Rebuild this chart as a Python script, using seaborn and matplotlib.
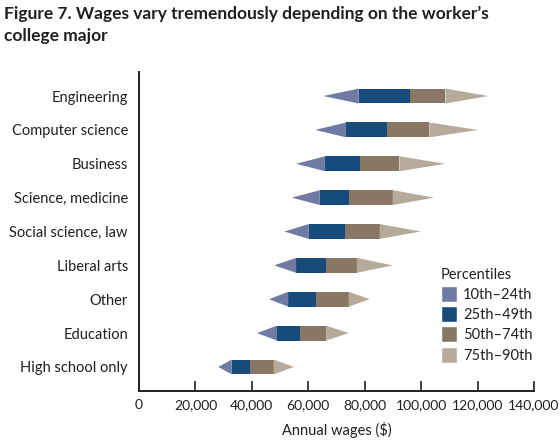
import pandas as pd
import numpy as np
import matplotlib.pyplot as plt
import seaborn as sns
from matplotlib.patches import Patch

majors = ['Engineering', 'Computer science', 'Business', 'Science, medicine',
          'Social science, law', 'Liberal arts', 'Other', 'Education', 'High school only']
p10 = [65300, 62500, 55700, 54200, 51500, 47900, 46100, 41800, 28100]
p25 = [77900, 73400, 65900, 64100, 60200, 55700, 52900, 48900, 32900]
p50 = [96100, 87800, 78400, 74300, 73000, 66200, 62600, 57200, 39200]
p75 = [108600, 102900, 92300, 89900, 85300, 77200, 74300, 66300, 47700]
p90 = [123800, 120100, 108600, 104600, 99900, 89900, 81800, 74400, 54900]

seg_labels = ['10th\u201324th', '25th\u201349th', '50th\u201374th', '75th\u201390th']
colors = ['#6f7ba3', '#174b7c', '#887764', '#b6aa9a']

df = pd.DataFrame({'major': majors, 'p10': p10, 'p25': p25, 'p50': p50, 'p75': p75, 'p90': p90})
df['w_low'] = df['p50'] - df['p25']
df['w_high'] = df['p75'] - df['p50']

sns.set_style('white')
plt.rcParams['font.family'] = ['Lato', 'DejaVu Sans']

fig = plt.figure(figsize=(5.6, 4.45), dpi=100)
ax = fig.add_axes([139 / 560, 1 - 391 / 445, 395 / 560, 319 / 445])

bh = 0.44
# middle boxes (25th-49th and 50th-74th)
sns.barplot(data=df, y='major', x='w_low', left=df['p25'], color=colors[1],
            width=bh, saturation=1, linewidth=0, ax=ax)
sns.barplot(data=df, y='major', x='w_high', left=df['p50'], color=colors[2],
            width=bh, saturation=1, linewidth=0, ax=ax)

# arrow tips (10th-24th and 75th-90th)
for i, row in df.iterrows():
    ax.fill([row['p10'], row['p25'], row['p25']], [i, i - bh / 2, i + bh / 2],
            color=colors[0], lw=0)
    ax.fill([row['p90'], row['p75'], row['p75']], [i, i - bh / 2, i + bh / 2],
            color=colors[3], lw=0)

ax.set_xlim(0, 140000)
ax.set_ylim(len(majors) - 0.29, -0.71)
ax.set_xticks(np.arange(0, 140001, 20000))
ax.set_xticklabels([f'{v:,}' for v in range(0, 140001, 20000)])
ax.set_ylabel('')
ax.set_xlabel('Annual wages ($)', fontsize=10.5, color='#231f20', labelpad=8)

for s in ['top', 'right']:
    ax.spines[s].set_visible(False)
for s in ['left', 'bottom']:
    ax.spines[s].set_color('#231f20')
    ax.spines[s].set_linewidth(1.4)
    ax.spines[s].set_zorder(5)

ax.tick_params(axis='x', direction='in', length=7, width=1.2, color='#231f20',
               labelsize=10, labelcolor='#231f20', pad=6, bottom=True)
ax.tick_params(axis='y', length=0, labelsize=10.5, labelcolor='#231f20', pad=8)

handles = [Patch(facecolor=c, label=l) for c, l in zip(colors, seg_labels)]
leg = ax.legend(handles=handles, title='Percentiles', loc='upper left',
                bbox_to_anchor=(0.745, 0.41), frameon=False, fontsize=10.5,
                title_fontsize=10.5, handlelength=1.1, handleheight=1.3,
                handletextpad=0.45, labelspacing=0.3, borderpad=0)
leg._legend_box.align = 'left'
for t in leg.get_texts():
    t.set_color('#231f20')
leg.get_title().set_color('#231f20')

fig.text(0.008, 0.988, 'Figure 7. Wages vary tremendously depending on the worker\u2019s\ncollege major',
         ha='left', va='top', fontsize=12.5, fontweight='bold', color='#231f20',
         linespacing=1.45)

fig.savefig('out.png', dpi=100)
